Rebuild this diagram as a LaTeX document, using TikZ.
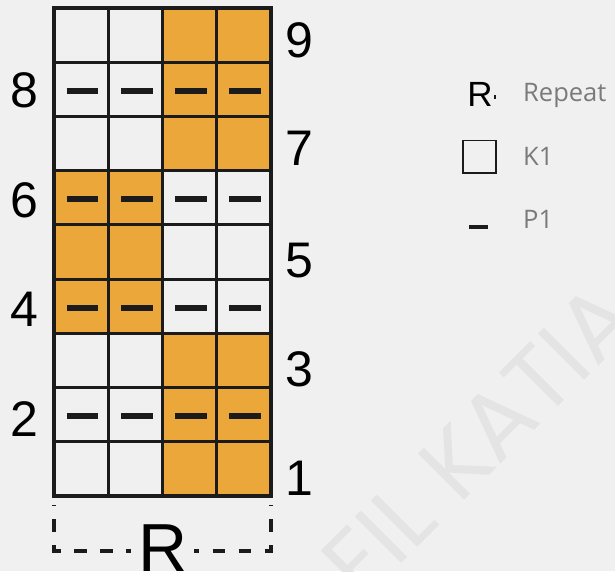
\documentclass[tikz,border=0pt]{standalone}
\usepackage{fontspec}
\setmainfont{Liberation Sans}
\newfontfamily\legendfont{Open Sans}
\newfontfamily\wmfont{Poppins}
\definecolor{bg}{HTML}{F0F0F0}
\definecolor{knitorange}{HTML}{ECA73B}
\definecolor{gridline}{HTML}{1B1B1B}
\definecolor{legendgray}{HTML}{7A7A7A}
\definecolor{wmgray}{HTML}{E4E4E4}
\begin{document}
\begin{tikzpicture}[x=1pt,y=-1pt,
  cellfill/.style={fill=knitorange},
  innerline/.style={draw=gridline,line width=3pt},
  outerline/.style={draw=gridline,line width=4pt},
  dashmark/.style={draw=gridline,line width=6pt},
  rownum/.style={inner sep=0pt,anchor=base,font=\fontsize{50}{60}\selectfont,text=black},
  legendtext/.style={inner sep=0pt,anchor=base west,font=\legendfont\fontsize{25.5}{30}\selectfont,text=legendgray},
  bracketline/.style={draw=gridline,line width=4.2pt,dash pattern=on 12.5pt off 13.5pt,dash phase=7.5pt},
  wm/.style={inner sep=0pt,anchor=base west,rotate=45,font=\wmfont\fontsize{94}{110}\selectfont,text=wmgray}]
\fill[bg] (0,0) rectangle (615,571);
\useasboundingbox (0,0) rectangle (615,571);
% watermark
\node[wm] (wmark) at (362.7,602.3) {FIL KATIA};
% orange cells
\foreach \r in {1,2,3,7,8,9}{\foreach \c in {3,4}{
  \fill[cellfill] ({54+(\c-1)*54.2},{8+(9-\r)*54.2}) rectangle ++(54.2,54.2);}}
\foreach \r in {4,5,6}{\foreach \c in {1,2}{
  \fill[cellfill] ({54+(\c-1)*54.2},{8+(9-\r)*54.2}) rectangle ++(54.2,54.2);}}
% grid
\foreach \i in {1,2,3}{\draw[innerline] ({54+\i*54.2},8) -- ({54+\i*54.2},495.8);}
\foreach \j in {1,...,8}{\draw[innerline] (54,{8+\j*54.2}) -- (270.8,{8+\j*54.2});}
\draw[outerline] (54,8) rectangle (270.8,495.8);
% purl dashes
\foreach \r in {2,4,6,8}{\foreach \c in {1,...,4}{
  \draw[dashmark] ({54+(\c-0.5)*54.2+1.5-15.75},{8+(9-\r+0.5)*54.2+1.4}) -- ++(31.5,0);}}
% row numbers
\node[rownum] (n9) at (299,57) {9};
\node[rownum] (n7) at (299,165) {7};
\node[rownum] (n5) at (299,277) {5};
\node[rownum] (n3) at (299,386.5) {3};
\node[rownum] (n1) at (299,495) {1};
\node[rownum] (n8) at (24.5,107.7) {8};
\node[rownum] (n6) at (24.5,217) {6};
\node[rownum] (n4) at (24.5,326.7) {4};
\node[rownum] (n2) at (24.5,436) {2};
% repeat bracket
\node[inner sep=0pt,anchor=base,font=\fontsize{68}{80}\selectfont] (rep) at (163,571.4) {R};
\coordinate (bl) at (131,551);
\coordinate (blc) at (54,551);
\coordinate (blt) at (54,505);
\coordinate (br) at (194,551);
\coordinate (brc) at (271,551);
\coordinate (brt) at (271,505);
\draw[bracketline] (bl) -- (blc) -- (blt);
\draw[bracketline] (br) -- (brc) -- (brt);
% legend
\node[inner sep=0pt,anchor=base,font=\fontsize{35}{42}\selectfont] (legR) at (480,106) {R};
\coordinate (tickA) at (495,95);
\coordinate (tickB) at (495,99);
\draw[draw=gridline,line width=1.4pt] (tickA) -- (tickB);
\node[legendtext] (legRepeat) at (523,101.7) {Repeat};
\draw[draw=gridline,line width=1.6pt] (463,140.5) rectangle (496,173);
\node[legendtext] (legK) at (523,165) {K1};
\coordinate (pa) at (469,227);
\coordinate (pb) at (488,227);
\draw[draw=gridline,line width=4.5pt] (pa) -- (pb);
\node[legendtext] (legP) at (523,228.3) {P1};
\end{tikzpicture}
\end{document}
